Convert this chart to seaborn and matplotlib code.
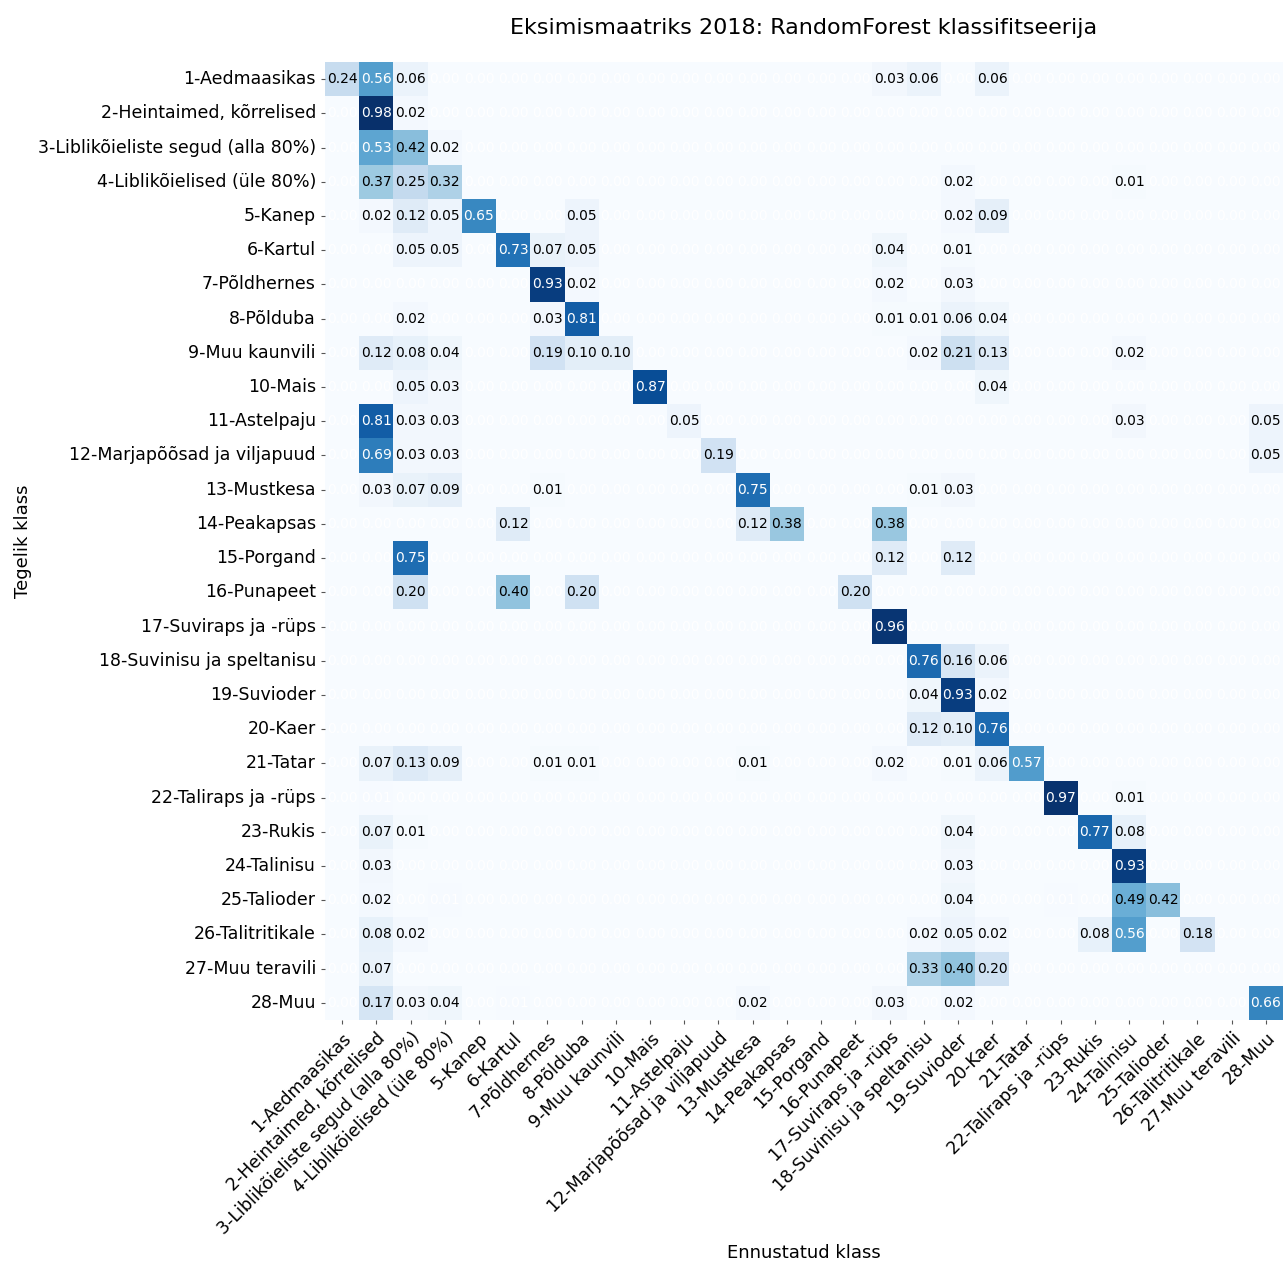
import numpy as np
import pandas as pd
import matplotlib
matplotlib.use("Agg")
import matplotlib.pyplot as plt
import seaborn as sns

# Crop classes (true and predicted share the same order)
classes = [
    "1-Aedmaasikas", "2-Heintaimed, kõrrelised", "3-Liblikõieliste segud (alla 80%)",
    "4-Liblikõielised (üle 80%)", "5-Kanep", "6-Kartul", "7-Põldhernes", "8-Põlduba",
    "9-Muu kaunvili", "10-Mais", "11-Astelpaju", "12-Marjapõõsad ja viljapuud",
    "13-Mustkesa", "14-Peakapsas", "15-Porgand", "16-Punapeet", "17-Suviraps ja -rüps",
    "18-Suvinisu ja speltanisu", "19-Suvioder", "20-Kaer", "21-Tatar",
    "22-Taliraps ja -rüps", "23-Rukis", "24-Talinisu", "25-Talioder",
    "26-Talitritikale", "27-Muu teravili", "28-Muu",
]

# Row-normalised confusion matrix, non-zero shares per true class
# (keys are predicted class numbers)
row_01 = {1: 0.24, 2: 0.56, 3: 0.06, 17: 0.03, 18: 0.06, 20: 0.06}
row_02 = {2: 0.98, 3: 0.02}
row_03 = {2: 0.53, 3: 0.42, 4: 0.02}
row_04 = {2: 0.37, 3: 0.25, 4: 0.32, 19: 0.02, 24: 0.01}
row_05 = {2: 0.02, 3: 0.12, 4: 0.05, 5: 0.65, 8: 0.05, 19: 0.02, 20: 0.09}
row_06 = {3: 0.05, 4: 0.05, 6: 0.73, 7: 0.07, 8: 0.05, 17: 0.04, 19: 0.01}
row_07 = {7: 0.93, 8: 0.02, 17: 0.02, 19: 0.03}
row_08 = {3: 0.02, 7: 0.03, 8: 0.81, 17: 0.01, 18: 0.01, 19: 0.06, 20: 0.04}
row_09 = {2: 0.12, 3: 0.08, 4: 0.04, 7: 0.19, 8: 0.10, 9: 0.10, 18: 0.02,
          19: 0.21, 20: 0.13, 24: 0.02}
row_10 = {3: 0.05, 4: 0.03, 10: 0.87, 20: 0.04}
row_11 = {2: 0.81, 3: 0.03, 4: 0.03, 11: 0.05, 24: 0.03, 28: 0.05}
row_12 = {2: 0.69, 3: 0.03, 4: 0.03, 12: 0.19, 28: 0.05}
row_13 = {2: 0.03, 3: 0.07, 4: 0.09, 7: 0.01, 13: 0.75, 18: 0.01, 19: 0.03}
row_14 = {6: 0.12, 13: 0.12, 14: 0.38, 17: 0.38}
row_15 = {3: 0.75, 17: 0.12, 19: 0.12}
row_16 = {3: 0.20, 6: 0.40, 8: 0.20, 16: 0.20}
row_17 = {17: 0.96}
row_18 = {18: 0.76, 19: 0.16, 20: 0.06}
row_19 = {18: 0.04, 19: 0.93, 20: 0.02}
row_20 = {18: 0.12, 19: 0.10, 20: 0.76}
row_21 = {2: 0.07, 3: 0.13, 4: 0.09, 7: 0.01, 8: 0.01, 13: 0.01, 17: 0.02,
          19: 0.01, 20: 0.06, 21: 0.57}
row_22 = {2: 0.007, 22: 0.97, 24: 0.01}
row_23 = {2: 0.07, 3: 0.01, 19: 0.04, 23: 0.77, 24: 0.08}
row_24 = {2: 0.03, 19: 0.03, 24: 0.93}
row_25 = {2: 0.02, 4: 0.007, 19: 0.04, 22: 0.006, 24: 0.49, 25: 0.42}
row_26 = {2: 0.08, 3: 0.02, 18: 0.02, 19: 0.05, 20: 0.02, 23: 0.08, 24: 0.56, 26: 0.18}
row_27 = {2: 0.07, 18: 0.33, 19: 0.40, 20: 0.20}
row_28 = {2: 0.17, 3: 0.03, 4: 0.04, 6: 0.005, 13: 0.02, 17: 0.03, 19: 0.02, 28: 0.66}

rows = [row_01, row_02, row_03, row_04, row_05, row_06, row_07, row_08, row_09,
        row_10, row_11, row_12, row_13, row_14, row_15, row_16, row_17, row_18,
        row_19, row_20, row_21, row_22, row_23, row_24, row_25, row_26, row_27,
        row_28]

n = len(classes)
cm = np.zeros((n, n))
for i, entries in enumerate(rows):
    for j, v in entries.items():
        cm[i, j - 1] = v
df = pd.DataFrame(cm, index=classes, columns=classes)

W, H = 1284, 1261
fig = plt.figure(figsize=(W / 100, H / 100), dpi=100)
ax = fig.add_axes([325 / W, 1 - 1020 / H, 958 / W, 958 / H])

sns.heatmap(df, ax=ax, cmap="Blues", vmin=0, vmax=cm.max(), cbar=False,
            annot=True, fmt=".2f", annot_kws={"fontsize": 10})

# light text for the empty cells and the strongest cells, dark text otherwise
thresh = cm.max() / 2
for t, v in zip(ax.texts, cm.ravel()):
    t.set_color("white" if (v > thresh or v < 0.01) else "black")

ax.set_title("Eksimismaatriks 2018: RandomForest klassifitseerija",
             fontsize=16, pad=20)
ax.set_xlabel("Ennustatud klass", fontsize=13)
ax.set_ylabel("Tegelik klass", fontsize=13)
ax.set_xticklabels(classes, rotation=45, ha="right", rotation_mode="anchor",
                   fontsize=12.5)
ax.set_yticklabels(classes, rotation=0, fontsize=12.5)
ax.tick_params(axis="both", length=3, width=0.8, color="#555555")

fig.savefig("out.png", dpi=100)
